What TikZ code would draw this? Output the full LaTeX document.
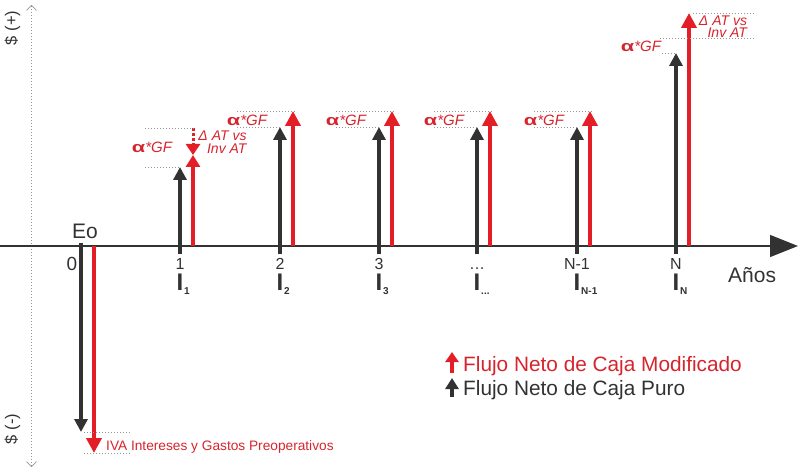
\documentclass[tikz,border=0pt]{standalone}
\usepackage{fontspec}
\setmainfont{Liberation Sans}
\usetikzlibrary{arrows.meta,calc}
\definecolor{rd}{RGB}{228,30,38}
\definecolor{rdt}{RGB}{214,36,44}
\definecolor{dk}{RGB}{50,50,50}
\definecolor{dotc}{RGB}{150,150,150}
\newcommand\fsz[2][]{\fontsize{#2}{#2}\selectfont}
\newcommand\tinydots{.{}.{}.}
\newcommand\agf{{\fontsize{15}{15}\selectfont\bfseries\scalebox{1.45}[1]{α}}\itshape *GF}
\begin{document}
\begin{tikzpicture}[x=1pt,y=-1pt,
 blk/.style={draw=dk,line width=4pt,-{Triangle[width=13pt,length=13pt]}},
 redar/.style={draw=rd,line width=4pt,-{Triangle[width=15pt,length=15pt]}},
 guide/.style={draw=dotc,line width=0.8pt,dash pattern=on 0.8pt off 2.2pt},
 num/.style={text=dk,font=\fsz{16},inner sep=0pt,anchor=base},
 ibar/.style={text=dk,font=\fsz{24}\bfseries,inner sep=0pt},
 isub/.style={text=dk,font=\fsz{10}\bfseries,inner sep=0pt,anchor=base west},
 gf/.style={text=rdt,font=\fsz{15},inner sep=0pt},
 dat/.style={text=rdt,font=\fontsize{14}{12.5}\selectfont\itshape,inner sep=0pt,align=right},
 leg/.style={font=\fsz{20.8},inner sep=0pt,anchor=base west}
]
\useasboundingbox (0,0) rectangle (800,473);
% vertical dotted axis
\coordinate (vtop) at (31.5,5);
\coordinate (vbot) at (31.5,467);
\draw[guide,{Straight Barb[length=5pt,width=10pt,line width=0.7pt]}-{Straight Barb[length=5pt,width=10pt,line width=0.7pt]}] (vtop) -- (vbot);
\node[rotate=90,text=dk,font=\fsz{16.5},inner sep=0pt] (splus) at (12.5,28) {\$ (+)};
\node[rotate=90,text=dk,font=\fsz{16.5},inner sep=0pt] (sminus) at (12.5,429) {\$ (-)};
% horizontal axis
\coordinate (hl) at (0,246);
\coordinate (hr) at (798,246);
\draw[dk,line width=1.3pt,-{Triangle[width=22pt,length=28pt]}] (hl) -- (hr);
\node[text=dk,font=\fsz{21},inner sep=0pt,anchor=base west] (anos) at (728,282) {Años};
% year 0
\node[text=dk,font=\fsz{21},inner sep=0pt] (eo) at (85,231.5) {Eo};
\node[num,font=\fsz{19}] (n0) at (72,270) {0};
\coordinate (b0s) at (81,243); \coordinate (b0t) at (81,432);
\draw[blk] (b0s) -- (b0t);
\coordinate (r0s) at (94,246); \coordinate (r0t) at (94,453);
\draw[redar] (r0s) -- (r0t);
\draw[guide] (84,432) -- (130,432);
\draw[guide] (84,453) -- (130,453);
\node[text=rdt,font=\fsz{13.7},inner sep=0pt,anchor=base west] (iva) at (106,450) {IVA Intereses y Gastos Preoperativos};
% labels under axis
\foreach \x/\t/\s [count=\k] in {180/1/1,280/2/2,379/3/3,477/\ldots/\tinydots,577/N-1/N-1,676/N/N}{
  \node[num] (n\k) at (\x,269.5) {\t};
  \node[ibar] (I\k) at (\x,282) {I};
  \node[isub] (s\k) at ($(I\k.south east)+(0.5,4)$) {\s};
}
% year 1
\coordinate (b1s) at (180,254); \coordinate (b1t) at (180,167);
\draw[blk] (b1s) -- (b1t);
\coordinate (r1s) at (193,246); \coordinate (r1t) at (193,155);
\draw[draw=rd,line width=4pt,-{Triangle[width=14pt,length=12pt]}] (r1s) -- (r1t);
\coordinate (d1s) at (193,128);
\draw[draw=rd,line width=3pt,dash pattern=on 3pt off 2pt,-{Triangle[width=14pt,length=11pt]}] (d1s) -- (r1t);
\draw[guide] (145,128) -- (195,128);
\draw[guide] (145,167) -- (180,167);
\node[gf] (gf1) at (152,147) {\agf};
\node[dat] (dat1) at (222.5,142) {Δ AT vs\\Inv AT};
% years 2 .. N-1
\foreach \x [count=\k] in {280,379,477,577}{
  \coordinate (bs\k) at (\x,254); \coordinate (bt\k) at (\x,127);
  \draw[blk] (bs\k) -- (bt\k);
  \coordinate (rs\k) at (\x+13,246); \coordinate (rt\k) at (\x+13,111);
  \draw[redar] (rs\k) -- (rt\k);
  \draw[guide] (\x-43,111) -- (\x+16,111);
  \draw[guide] (\x-43,127) -- (\x,127);
  \node[gf] (gfm\k) at (\x-33,120) {\agf};
}
% year N
\coordinate (bNs) at (676,254); \coordinate (bNt) at (676,53);
\draw[blk] (bNs) -- (bNt);
\coordinate (rNs) at (689,246); \coordinate (rNt) at (689,13);
\draw[redar] (rNs) -- (rNt);
\draw[guide] (693,13) -- (755,13);
\draw[guide] (660,38) -- (755,38);
\draw[guide] (662,53) -- (676,53);
\node[gf] (gfN) at (641,46) {\agf};
\node[dat] (datN) at (723,26.5) {Δ AT vs\\Inv AT};
% legend
\coordinate (l1s) at (452,373); \coordinate (l1t) at (452,352);
\draw[draw=rd,line width=4pt,-{Triangle[width=13pt,length=10pt]}] (l1s) -- (l1t);
\coordinate (l2s) at (452,397); \coordinate (l2t) at (452,378);
\draw[draw=dk,line width=4pt,-{Triangle[width=13pt,length=11pt]}] (l2s) -- (l2t);
\node[leg,text=rdt] (lg1) at (463,371) {Flujo Neto de Caja Modificado};
\node[leg,text=dk] (lg2) at (463,395) {Flujo Neto de Caja Puro};
\end{tikzpicture}
\end{document}
